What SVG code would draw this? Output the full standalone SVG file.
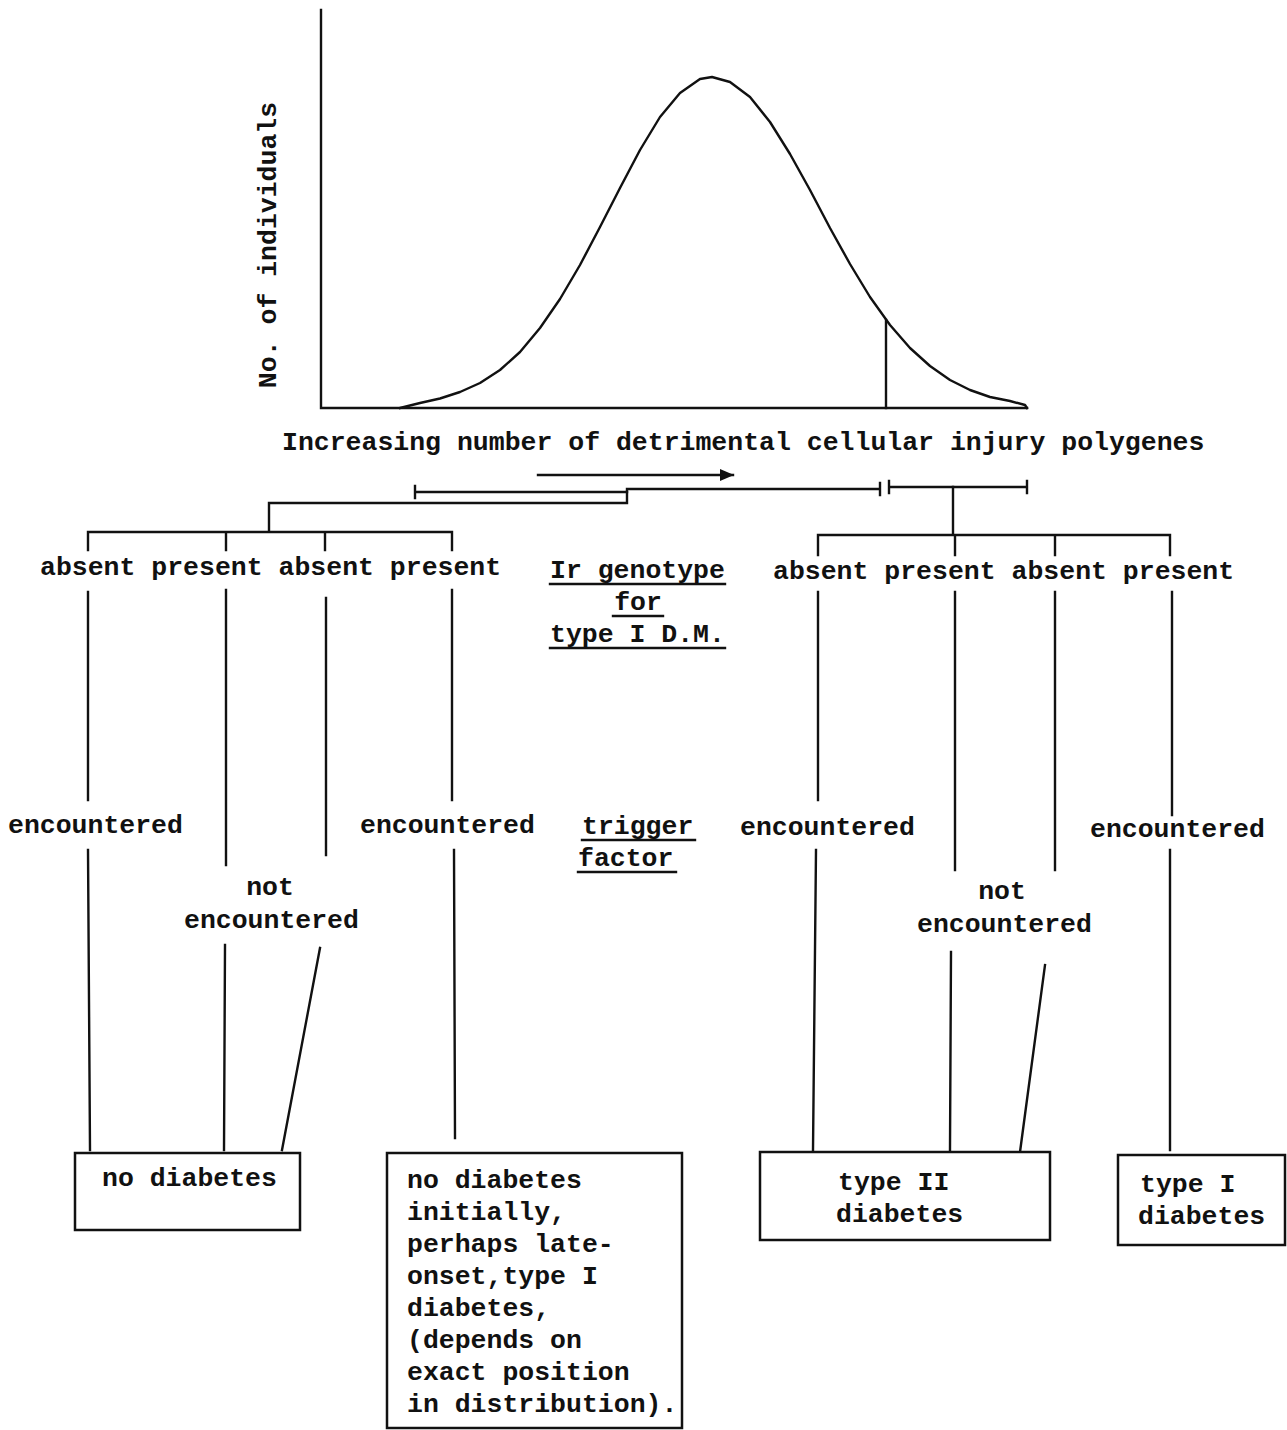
<svg xmlns="http://www.w3.org/2000/svg" width="1287" height="1430" viewBox="0 0 1287 1430">
<style>
text{font-family:"Liberation Mono","Courier New",monospace;font-size:26.5px;font-weight:bold;fill:#111}
.ln{stroke:#111;stroke-width:2.4;fill:none;stroke-linecap:square}
.bx{stroke:#111;stroke-width:2.5;fill:#fff}
</style>
<defs>
<marker id="ah" viewBox="0 0 14 12" refX="13" refY="6" markerWidth="14" markerHeight="12" markerUnits="userSpaceOnUse" orient="auto"><path d="M0,0 L14,6 L0,12 z" fill="#111"/></marker>
</defs>
<rect width="1287" height="1430" fill="#fff"/>
<g id="chart">
<path class="ln" d="M321,10 L321,408 L1027,408"/>
<polyline class="ln" stroke-width="2.8" stroke-linejoin="round" points="400,408 420,403 440,398.5 460,392 480,383 500,370 520,352 540,328 560,299 580,265 600,227 620,188 640,150 660,117 680,93 700,79 712,77 730,82 750,97 770,122 790,154 810,190 830,228 850,264 870,297 890,325 910,348 930,366 950,380 970,390 990,397 1010,401 1025,405 1027,408"/>
<line class="ln" x1="886" y1="320" x2="886" y2="408"/>
<text transform="translate(276,245) rotate(-90)" text-anchor="middle">No. of individuals</text>
<text x="282" y="450">Increasing number of detrimental cellular injury polygenes</text>
</g>
<g id="connectors">
<line class="ln" x1="538" y1="475" x2="733" y2="475" marker-end="url(#ah)"/>
<path class="ln" d="M415,492 L627,492 L627,489 L880,489 M415,486 L415,498 M880,483 L880,495 M889,487 L1027,487 M889,481 L889,493 M1027,481 L1027,493"/>
<path class="ln" d="M627,492 L627,503 L269,503 L269,532 M88,550 L88,532 L452,532 L452,550 M226,532 L226,550 M325,532 L325,550"/>
<path class="ln" d="M953,487 L953,535 M818,555 L818,535 L1170,535 L1170,555 M955,535 L955,555 M1055,535 L1055,555"/>
<path class="ln" d="M88,592 L88,800 M88,850 L90,1150 M226,590 L226,865 M225,945 L224,1150 M326,598 L326,855 M320,948 L282,1150 M452,590 L452,800 M454,850 L455,1138"/>
<path class="ln" d="M818,592 L818,800 M816,850 L813,1150 M955,592 L955,870 M951,952 L950,1150 M1055,592 L1055,870 M1045,965 L1020,1152 M1172,592 L1172,815 M1170,850 L1170,1150"/>
</g>
<g id="labels-left">
<text x="40" y="575">absent present absent present</text>
<text x="8" y="833">encountered</text>
<text x="270" y="895" text-anchor="middle">not</text>
<text x="184" y="928">encountered</text>
<text x="360" y="833">encountered</text>
</g>
<g id="labels-mid">
<text x="550" y="578">Ir genotype</text>
<text x="638" y="610" text-anchor="middle">for</text>
<text x="550" y="642">type I D.M.</text>
<path class="ln" d="M550,584 L725,584 M613,616 L663,616 M550,648 L725,648"/>
<text x="582" y="834">trigger</text>
<text x="578" y="866">factor</text>
<path class="ln" d="M582,840 L695,840 M578,872 L676,872"/>
</g>
<g id="labels-right">
<text x="773" y="579">absent present absent present</text>
<text x="740" y="835">encountered</text>
<text x="1002" y="899" text-anchor="middle">not</text>
<text x="917" y="932">encountered</text>
<text x="1090" y="837">encountered</text>
</g>
<g id="box-no-diabetes">
<rect class="bx" x="75" y="1153" width="225" height="77"/>
<text x="102" y="1186">no diabetes</text>
</g>
<g id="box-late-onset">
<rect class="bx" x="387" y="1153" width="295" height="275"/>
<text x="407" y="1188">no diabetes</text>
<text x="407" y="1220">initially,</text>
<text x="407" y="1252">perhaps late-</text>
<text x="407" y="1284">onset,type I</text>
<text x="407" y="1316">diabetes,</text>
<text x="407" y="1348">(depends on</text>
<text x="407" y="1380">exact position</text>
<text x="407" y="1412">in distribution).</text>
</g>
<g id="box-type2">
<rect class="bx" x="760" y="1152" width="290" height="88"/>
<text x="838" y="1190">type II</text>
<text x="836" y="1222">diabetes</text>
</g>
<g id="box-type1">
<rect class="bx" x="1118" y="1155" width="167" height="90"/>
<text x="1140" y="1192">type I</text>
<text x="1138" y="1224">diabetes</text>
</g>
</svg>
